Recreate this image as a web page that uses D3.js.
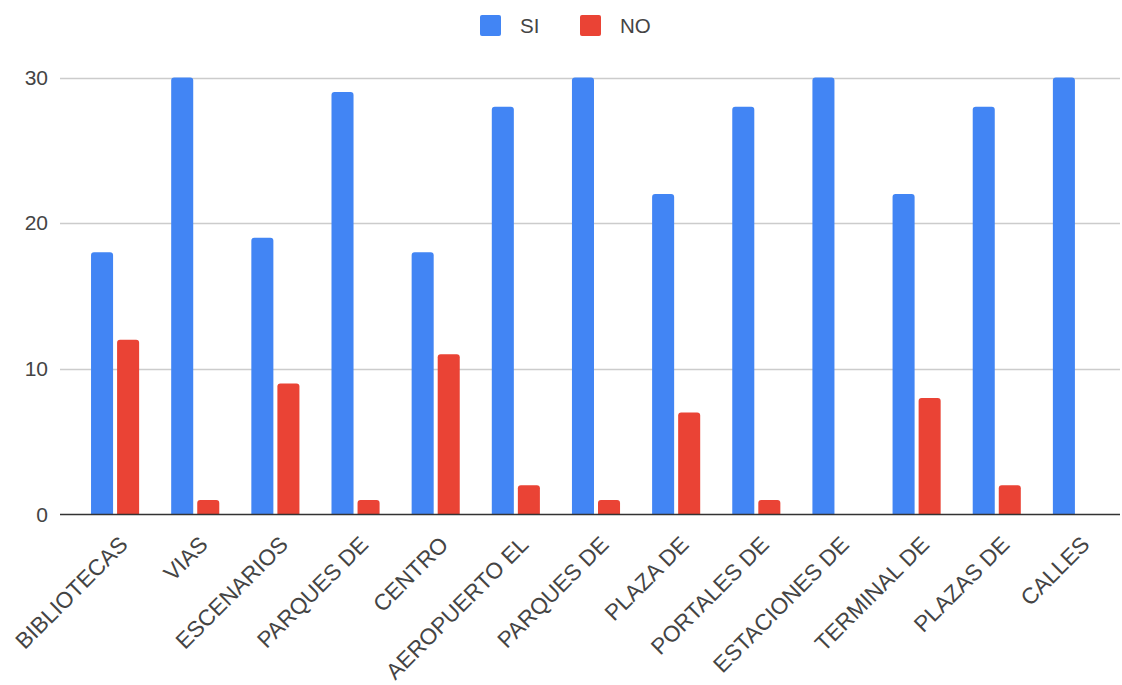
<!DOCTYPE html>
<html>
<head>
<meta charset="utf-8">
<script src="https://cdn.jsdelivr.net/npm/d3@7"></script>
<style>
  html, body { margin: 0; padding: 0; background: #fff; }
  svg { display: block; }
  text { font-family: "Liberation Sans", Arial, sans-serif; fill: #444; }
</style>
</head>
<body>
<svg id="chart" width="1122" height="685"></svg>
<script>
const categories = ["BIBLIOTECAS", "VIAS", "ESCENARIOS", "PARQUES DE", "CENTRO", "AEROPUERTO EL", "PARQUES DE", "PLAZA DE", "PORTALES DE", "ESTACIONES DE", "TERMINAL DE", "PLAZAS DE", "CALLES"];
const seriesNames = ["SI", "NO"];
const siValues = [18, 30, 19, 29, 18, 28, 30, 22, 28, 30, 22, 28, 30];
const noValues = [12, 1, 9, 1, 11, 2, 1, 7, 1, 0, 8, 2, 0];
const yTicks = [0, 10, 20, 30];
const colors = ["#4285F4", "#EA4335"];

const svg = d3.select("#chart");
const plotLeft = 60, plotRight = 1120;

const y = d3.scaleLinear().domain([0, 30]).range([514.5, 77.5]);
const idx = categories.map((d, i) => i);
const x0 = d3.scaleBand().domain(idx).range([75, 1117]).paddingInner(0.4).paddingOuter(0.2);
const x1 = d3.scaleBand().domain(seriesNames).range([0, x0.bandwidth()]).paddingInner(0.154);

// y axis labels
const yAxis = d3.axisLeft(y).tickValues(yTicks).tickSize(0).tickPadding(12);
const gAxis = svg.append("g").attr("transform", `translate(${plotLeft},0)`).call(yAxis);
gAxis.select(".domain").remove();
gAxis.selectAll("text").attr("font-size", 21).attr("fill", "#444")
  .attr("font-family", '"Liberation Sans", Arial, sans-serif');

// gridlines
svg.append("g").selectAll("line").data(yTicks.filter(t => t !== 0)).join("line")
  .attr("x1", plotLeft).attr("x2", plotRight)
  .attr("y1", d => Math.round(y(d)) + 0.5).attr("y2", d => Math.round(y(d)) + 0.5)
  .attr("stroke", "#cccccc").attr("stroke-width", 1.5);

// bars
const data = idx.map(i => ({ i, vals: [siValues[i], noValues[i]] }));
function barPath(x, yTop, w, yBase, r) {
  const h = yBase - yTop;
  if (h <= 0) return "";
  const rr = Math.min(r, h, w / 2);
  return `M${x},${yBase}V${yTop + rr}Q${x},${yTop} ${x + rr},${yTop}H${x + w - rr}Q${x + w},${yTop} ${x + w},${yTop + rr}V${yBase}Z`;
}
const groups = svg.append("g").selectAll("g").data(data).join("g")
  .attr("transform", d => `translate(${x0(d.i)},0)`);
groups.selectAll("path").data(d => d.vals.map((v, k) => ({ v, k }))).join("path")
  .attr("d", d => barPath(x1(seriesNames[d.k]), y(d.v), x1.bandwidth(), y(0), 3))
  .attr("fill", d => colors[d.k]);

// baseline
svg.append("line").attr("x1", plotLeft).attr("x2", plotRight)
  .attr("y1", y(0)).attr("y2", y(0)).attr("stroke", "#333").attr("stroke-width", 1.5);

// x labels
svg.append("g").selectAll("text").data(idx).join("text")
  .attr("transform", i => `translate(${x0(i) + x0.bandwidth() / 2 + 14},546) rotate(-45)`)
  .attr("text-anchor", "end")
  .attr("font-size", 22.5)
  .attr("fill", "#333")
  .text(i => categories[i]);

// legend
const legend = svg.append("g");
const legendItems = [{ name: "SI", x: 480 }, { name: "NO", x: 580 }];
legendItems.forEach((it, k) => {
  legend.append("rect").attr("x", it.x).attr("y", 15).attr("width", 21).attr("height", 21)
    .attr("rx", 2).attr("fill", colors[k]);
  legend.append("text").attr("x", it.x + 40).attr("y", 25.5).attr("dy", "0.36em")
    .attr("font-size", 20.5).text(it.name);
});
</script>
</body>
</html>
